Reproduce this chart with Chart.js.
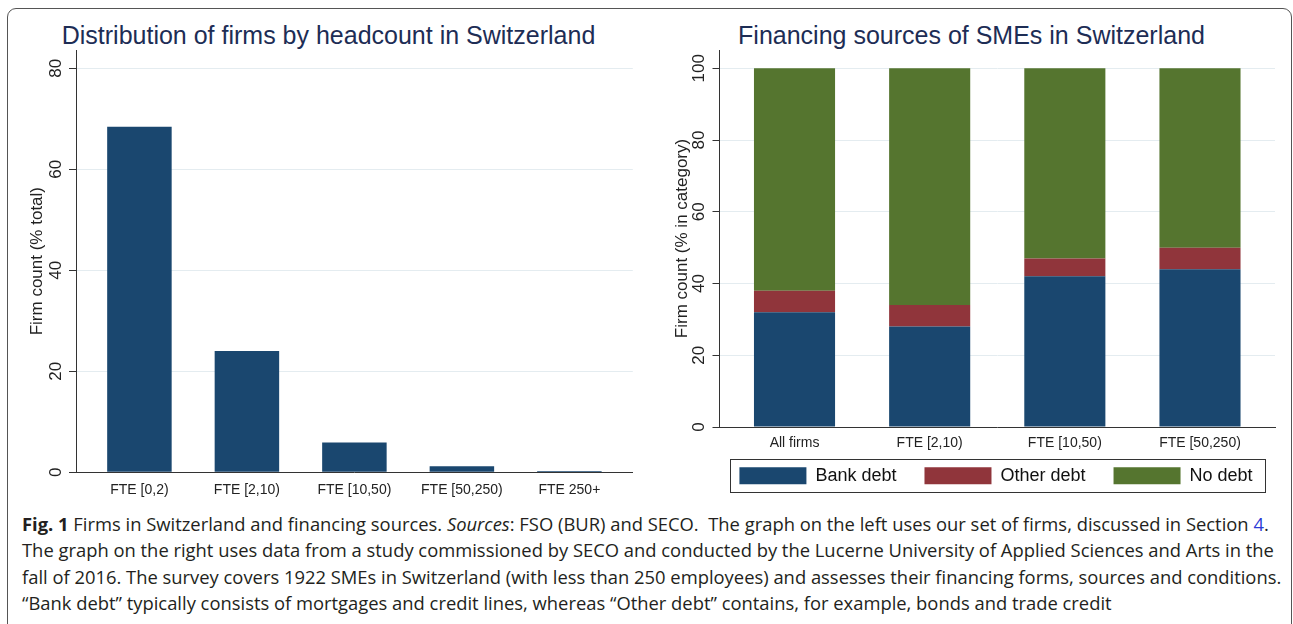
<!DOCTYPE html>
<html>
<head>
<meta charset="utf-8">
<title>Firms in Switzerland and financing sources</title>
<style>
  html, body { margin: 0; padding: 0; background: #fff; width: 1293px; height: 624px; overflow: hidden; }
  #frame { position: absolute; left: 7px; top: 8px; width: 1283px; height: 700px; border: 1px solid #555; border-radius: 9px; }
  canvas { position: absolute; top: 10px; }
  #left-chart { left: 10px; }
  #right-chart { left: 655px; }
  .panel-title { position: absolute; top: 19.6px; font-family: "Liberation Sans", Arial, sans-serif; font-size: 25px; line-height: 30px; color: #1d2d55; text-align: center; white-space: nowrap; }
  #left-title { left: 0; width: 657px; }
  #right-title { left: 650px; width: 643px; }
  #caption { position: absolute; left: 22px; top: 511px; font-family: "Open Sans", "DejaVu Sans", sans-serif; font-size: 18px; line-height: 26.3px; color: #231f20; white-space: nowrap; }
  #caption .line { display: block; }
  #caption .ref { color: #2b3bd6; }
</style>
<script src="https://cdn.jsdelivr.net/npm/chart.js"></script>
</head>
<body>
<div id="frame"></div>
<div class="panel-title" id="left-title">Distribution of firms by headcount in Switzerland</div>
<div class="panel-title" id="right-title">Financing sources of SMEs in Switzerland</div>
<canvas id="left-chart" width="635" height="495"></canvas>
<canvas id="right-chart" width="682" height="495"></canvas>
<div id="caption">
  <span class="line" id="cap-1"><b>Fig. 1</b> Firms in Switzerland and financing sources. <i>Sources</i>: FSO (BUR) and SECO.&nbsp; The graph on the left uses our set of firms, discussed in Section <span class="ref">4</span>.</span>
  <span class="line" id="cap-2">The graph on the right uses data from a study commissioned by SECO and conducted by the Lucerne University of Applied Sciences and Arts in the</span>
  <span class="line" id="cap-3">fall of 2016. The survey covers 1922 SMEs in Switzerland (with less than 250 employees) and assesses their financing forms, sources and conditions.</span>
  <span class="line" id="cap-4">“Bank debt” typically consists of mortgages and credit lines, whereas “Other debt” contains, for example, bonds and trade credit</span>
</div>
<script>
// left panel: share of firms by headcount class
const headcountCategories = ["FTE [0,2)", "FTE [2,10)", "FTE [10,50)", "FTE [50,250)", "FTE 250+"];
const headcountShare = [68.4, 24.0, 5.9, 1.2, 0.25];
const headcountTicks = [0, 20, 40, 60, 80];

// right panel: financing sources by firm size
const financingCategories = ["All firms", "FTE [2,10)", "FTE [10,50)", "FTE [50,250)"];
const bankDebt = [32, 28, 42, 44];
const otherDebt = [6, 6, 5, 6];
const noDebt = [62, 66, 53, 50];
const financingTicks = [0, 20, 40, 60, 80, 100];

const NAVY = "#1a476f";
const MAROON = "#90353b";
const GREEN = "#55752f";
const AXIS_COLOR = "#333";
const GRID_COLOR = "#e4ecf0";

Chart.defaults.font.family = "'Liberation Sans', Arial, sans-serif";
Chart.defaults.color = "#222";
Chart.defaults.animation = false;

function toPoints(values) {
  return values.map((v, i) => ({ x: i, y: v }));
}

function valueAxis(ticks, max, title, width, pad) {
  return {
    position: "left",
    min: 0,
    max: max,
    afterBuildTicks: (scale) => { scale.ticks = ticks.map((v) => ({ value: v })); },
    afterFit: (scale) => { scale.width = width; },
    grid: { color: GRID_COLOR, tickColor: AXIS_COLOR, tickLength: 7 },
    border: { color: AXIS_COLOR, width: 1 },
    ticks: { minRotation: 90, maxRotation: 90, crossAlign: "center", padding: pad, font: { size: 17 }, color: "#222" },
    title: { display: true, text: title, font: { size: 17 }, color: "#222", padding: { top: 17.5, bottom: 0 } },
  };
}

// categories sit on a linear axis so the outer gaps can differ from the bar spacing
function categoryAxis(labels, edge, height, ticks) {
  return {
    type: "linear",
    bounds: "data",
    offset: false,
    min: -edge,
    max: labels.length - 1 + edge,
    afterBuildTicks: (scale) => { scale.ticks = labels.map((_, i) => ({ value: i })); },
    afterFit: (scale) => { scale.height = height; },
    grid: { display: false, drawTicks: false },
    border: { color: AXIS_COLOR, width: 1 },
    ticks: { autoSkip: false, maxRotation: 0, font: { size: 14 }, color: "#222", callback: (v) => labels[v], ...ticks },
  };
}

// frame drawn round the legend, as Stata does
const legendFrame = {
  id: "legendFrame",
  afterDraw(chart) {
    const boxes = chart.legend && chart.legend.legendHitBoxes;
    if (!boxes || !boxes.length) return;
    const left = Math.min(...boxes.map((b) => b.left));
    const right = Math.max(...boxes.map((b) => b.left + b.width));
    const top = Math.min(...boxes.map((b) => b.top));
    const bottom = Math.max(...boxes.map((b) => b.top + b.height));
    const ctx = chart.ctx;
    ctx.save();
    ctx.strokeStyle = "#333";
    ctx.lineWidth = 1;
    ctx.strokeRect(Math.round(left - 9) + 0.5, Math.round(top - 7.5) + 0.5, Math.round(right - left + 21.5), Math.round(bottom - top + 14.5));
    ctx.restore();
  },
};

new Chart(document.getElementById("left-chart"), {
  type: "bar",
  data: {
    datasets: [
      {
        label: "Firm count",
        data: toPoints(headcountShare),
        backgroundColor: NAVY,
        barPercentage: 0.6,
        categoryPercentage: 1,
      },
    ],
  },
  options: {
    responsive: false,
    layout: { padding: { left: 0, right: 12.2, top: 40, bottom: 0 } },
    plugins: {
      legend: { display: false },
      tooltip: { enabled: false },
    },
    scales: {
      x: categoryAxis(headcountCategories, 0.59, 32.7, { padding: 9.5 }),
      y: valueAxis(headcountTicks, 83.6, "Firm count (% total)", 66, 3),
    },
  },
});

new Chart(document.getElementById("right-chart"), {
  type: "bar",
  data: {
    datasets: [
      { label: "Bank debt", data: toPoints(bankDebt), backgroundColor: NAVY },
      { label: "Other debt", data: toPoints(otherDebt), backgroundColor: MAROON },
      { label: "No debt", data: toPoints(noDebt), backgroundColor: GREEN },
    ].map((d) => ({ ...d, barPercentage: 0.6, categoryPercentage: 1, borderWidth: 0 })),
  },
  options: {
    responsive: false,
    layout: { padding: { left: 0, right: 0, top: 40, bottom: 10.3 } },
    plugins: {
      legend: {
        position: "bottom",
        labels: { boxWidth: 67, boxHeight: 17, padding: 28, color: "#111", font: { size: 18 } },
      },
      tooltip: { enabled: false },
    },
    scales: {
      // mirrored labels are not clipped to the thin axis box above the legend
      x: { ...categoryAxis(financingCategories, 0.555, 11.7, { mirror: true, padding: -24.9 }), stacked: true },
      y: { ...valueAxis(financingTicks, 105.1, "Firm count (% in category)", 64.5, -0.7), stacked: true },
      // empty right-hand axis keeps the plot centred over the legend
      spacer: {
        position: "right",
        afterFit: (scale) => { scale.width = 62; },
        grid: { display: false, drawTicks: false },
        border: { display: false },
        ticks: { display: false },
      },
    },
  },
  plugins: [legendFrame],
});

// fit the caption to the width of the printed line
const captionLine = document.getElementById("cap-2");
captionLine.style.display = "inline-block";
const natural = captionLine.getBoundingClientRect().width;
captionLine.style.display = "";
document.getElementById("caption").style.fontSize = (18 * 1253 / natural).toFixed(2) + "px";
</script>
</body>
</html>
